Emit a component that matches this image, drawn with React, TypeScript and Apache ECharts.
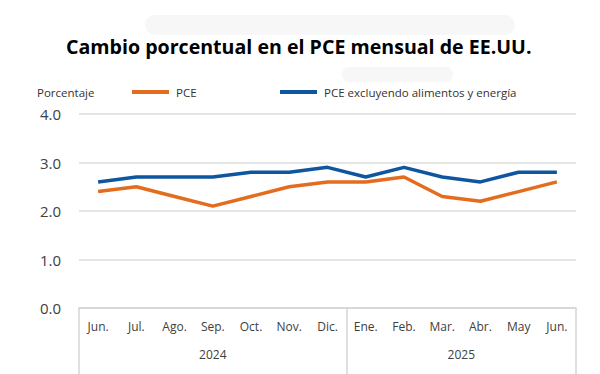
import React, { useEffect, useRef } from "react";
import * as echarts from "echarts";

const months = ["Jun.", "Jul.", "Ago.", "Sep.", "Oct.", "Nov.", "Dic.", "Ene.", "Feb.", "Mar.", "Abr.", "May", "Jun."];
const pce = [2.4, 2.5, 2.3, 2.1, 2.3, 2.5, 2.6, 2.6, 2.7, 2.3, 2.2, 2.4, 2.6];
const pceCore = [2.6, 2.7, 2.7, 2.7, 2.8, 2.8, 2.9, 2.7, 2.9, 2.7, 2.6, 2.8, 2.8];
const years = [
  { label: "2024", pos: 3.5 },
  { label: "2025", pos: 10 },
];
const yearStarts = [0, 7];
const seriesNames = ["PCE", "PCE excluyendo alimentos y energía"];
const colors = ["#E36C1E", "#0F56A0"];
const FONT = "'Open Sans', 'Noto Sans', sans-serif";

export default function App() {
  const ref = useRef<HTMLDivElement>(null);
  useEffect(() => {
    if (!ref.current) return;
    const chart = echarts.init(ref.current, undefined, { renderer: "svg" });
    const legendCommon = {
      icon: "rect",
      itemWidth: 37,
      itemHeight: 4,
      padding: 0,
      top: 86,
      textStyle: { fontFamily: FONT, fontSize: 11.5, color: "#333333", padding: [0, 0, 0, 2] },
    };
    chart.setOption({
      animation: false,
      backgroundColor: "#ffffff",
      title: {
        text: "Cambio porcentual en el PCE mensual de EE.UU.",
        left: 66,
        top: 36,
        padding: 0,
        textStyle: { fontFamily: FONT, fontSize: 19.6, fontWeight: "bold", color: "#000000" },
      },
      graphic: [
        { type: "rect", shape: { x: 145, y: 15, width: 370, height: 20, r: 10 }, style: { fill: "#f7f7f7" }, silent: true, z: -1 },
        { type: "rect", shape: { x: 342, y: 67, width: 111, height: 15, r: 7 }, style: { fill: "#f7f7f7" }, silent: true, z: -1 },
        {
          type: "text",
          left: 37,
          top: 86,
          style: { text: "Porcentaje", fontFamily: FONT, fontSize: 11.5, fill: "#333333" },
        },
      ],
      legend: [
        { ...legendCommon, data: [seriesNames[0]], left: 132 },
        { ...legendCommon, data: [seriesNames[1]], left: 280 },
      ],
      grid: { left: 79, right: 24, top: 114, bottom: 66, containLabel: false },
      xAxis: [
        {
          type: "category",
          data: months,
          boundaryGap: true,
          axisLine: { show: true, lineStyle: { color: "#d4d4d4", width: 1.5 } },
          axisTick: {
            show: true,
            length: 66,
            interval: (i: number) => yearStarts.includes(i),
            lineStyle: { color: "#d4d4d4", width: 1.5 },
          },
          axisLabel: { interval: 0, fontFamily: FONT, fontSize: 12, color: "#404040", margin: 12 },
          splitLine: { show: false },
        },
        {
          type: "value",
          position: "bottom",
          min: 0,
          max: months.length,
          interval: 0.5,
          axisLine: { show: false },
          axisTick: { show: false },
          splitLine: { show: false },
          axisLabel: {
            margin: 40,
            fontFamily: FONT,
            fontSize: 12,
            color: "#404040",
            formatter: (v: number) => {
              const y = years.find((e) => Math.abs(e.pos - v) < 1e-6);
              return y ? y.label : "";
            },
          },
        },
      ],
      yAxis: {
        type: "value",
        min: 0,
        max: 4,
        interval: 1,
        axisLine: { show: false },
        axisTick: { show: false },
        axisLabel: {
          formatter: (v: number) => v.toFixed(1),
          fontFamily: FONT,
          fontSize: 15,
          color: "#404040",
          margin: 18,
        },
        splitLine: { show: true, lineStyle: { color: "#dcdcdc", width: 1.5 } },
      },
      series: [
        {
          name: seriesNames[0],
          type: "line",
          xAxisIndex: 0,
          data: pce,
          showSymbol: false,
          symbol: "none",
          lineStyle: { color: colors[0], width: 3.5 },
          itemStyle: { color: colors[0] },
        },
        {
          name: seriesNames[1],
          type: "line",
          xAxisIndex: 0,
          data: pceCore,
          showSymbol: false,
          symbol: "none",
          lineStyle: { color: colors[1], width: 3.5 },
          itemStyle: { color: colors[1] },
        },
      ],
    });
    return () => chart.dispose();
  }, []);
  return <div ref={ref} style={{ width: 600, height: 374, position: "fixed", left: 0, top: 0 }} />;
}
